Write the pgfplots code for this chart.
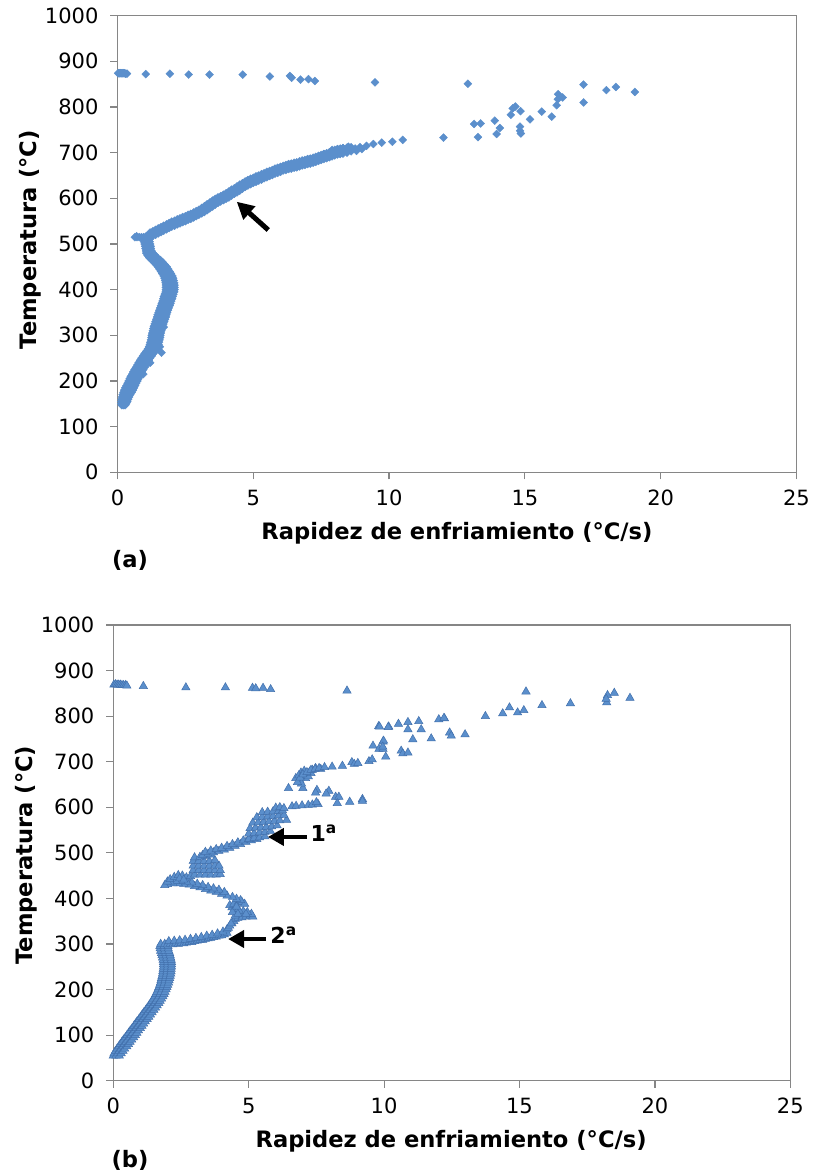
\documentclass[border=0pt]{standalone}
\usepackage{fontspec}
\setmainfont{DejaVu Sans}
\usepackage{pgfplots}
\usepackage{pgfplotstable}
\pgfplotsset{compat=1.18}
\usetikzlibrary{arrows.meta}
\definecolor{mk}{RGB}{91,143,204}
\definecolor{mkd}{RGB}{66,112,172}
\definecolor{axc}{RGB}{134,134,134}

% (a) lower band: temperature, left / centre / right cooling rate
\pgfplotstableread[row sep=\\]{
y xl xc xr\\
510 0.98 1.08 1.18\\
505 0.98 1.08 1.18\\
500 1.00 1.10 1.20\\
495 1.02 1.12 1.22\\
490 1.03 1.13 1.23\\
485 1.05 1.15 1.25\\
480 1.06 1.18 1.30\\
475 1.11 1.25 1.39\\
470 1.17 1.32 1.47\\
465 1.26 1.42 1.58\\
460 1.34 1.50 1.66\\
455 1.42 1.58 1.74\\
450 1.49 1.65 1.81\\
445 1.55 1.71 1.87\\
440 1.60 1.76 1.92\\
435 1.65 1.81 1.97\\
430 1.70 1.86 2.02\\
425 1.73 1.89 2.05\\
420 1.75 1.91 2.07\\
415 1.77 1.93 2.09\\
410 1.78 1.94 2.10\\
405 1.78 1.94 2.10\\
400 1.78 1.94 2.10\\
395 1.77 1.93 2.09\\
390 1.74 1.90 2.06\\
385 1.71 1.87 2.03\\
380 1.69 1.85 2.01\\
375 1.66 1.82 1.98\\
370 1.63 1.79 1.95\\
365 1.60 1.76 1.92\\
360 1.57 1.73 1.89\\
355 1.54 1.70 1.86\\
350 1.51 1.67 1.83\\
345 1.48 1.64 1.80\\
340 1.46 1.62 1.78\\
335 1.43 1.59 1.75\\
330 1.40 1.56 1.72\\
325 1.37 1.53 1.69\\
320 1.34 1.50 1.66\\
315 1.32 1.48 1.64\\
310 1.30 1.46 1.62\\
305 1.28 1.44 1.60\\
300 1.26 1.42 1.58\\
295 1.25 1.41 1.57\\
290 1.23 1.39 1.55\\
285 1.21 1.37 1.53\\
280 1.19 1.35 1.51\\
275 1.16 1.32 1.48\\
270 1.12 1.28 1.44\\
265 1.06 1.22 1.38\\
260 1.00 1.16 1.32\\
255 0.94 1.10 1.26\\
250 0.88 1.04 1.20\\
245 0.83 0.99 1.15\\
240 0.78 0.94 1.10\\
235 0.73 0.89 1.05\\
230 0.68 0.84 1.00\\
225 0.63 0.79 0.95\\
220 0.58 0.74 0.90\\
215 0.54 0.70 0.86\\
210 0.49 0.65 0.81\\
205 0.45 0.61 0.77\\
200 0.41 0.57 0.73\\
195 0.37 0.53 0.69\\
190 0.33 0.49 0.65\\
185 0.29 0.45 0.61\\
180 0.25 0.41 0.57\\
175 0.22 0.37 0.52\\
170 0.19 0.33 0.47\\
165 0.17 0.30 0.43\\
160 0.15 0.27 0.39\\
155 0.14 0.25 0.36\\
150 0.14 0.23 0.32\\
147 0.16 0.22 0.28\\
}\alow

% (a) upper band: cooling rate, lower / middle / upper temperature
\pgfplotstableread[row sep=\\]{
x yl yc yu\\
1.2 517 520 525\\
1.3 518 522 528\\
1.4 520 525 531\\
1.5 523 528 534\\
1.6 526 531 537\\
1.7 529 534 540\\
1.8 532 537 543\\
1.9 535 540 546\\
2.0 538 543 549\\
2.1 540 545 551\\
2.2 543 548 554\\
2.3 545 550 556\\
2.4 548 553 559\\
2.5 550 555 561\\
2.6 553 558 564\\
2.7 555 560 566\\
2.8 558 563 569\\
2.9 561 566 572\\
3.0 564 569 575\\
3.1 567 572 579\\
3.2 570 575 583\\
3.3 574 579 587\\
3.4 578 583 591\\
3.5 582 587 595\\
3.6 586 591 599\\
3.7 590 595 602\\
3.8 593 598 605\\
3.9 596 601 608\\
4.0 599 604 611\\
4.1 602 607 615\\
4.2 606 611 619\\
4.3 610 615 622\\
4.4 613 618 626\\
4.5 617 622 630\\
4.6 621 626 633\\
4.7 625 630 637\\
4.8 628 633 640\\
4.9 631 636 643\\
5.0 634 639 645\\
5.1 636 641 648\\
5.2 639 644 650\\
5.3 641 646 653\\
5.4 644 649 655\\
5.5 646 651 658\\
5.6 649 654 660\\
5.7 651 656 662\\
5.8 654 659 665\\
5.9 656 661 667\\
6.0 658 663 669\\
6.1 661 666 671\\
6.2 662 667 673\\
6.3 664 669 675\\
6.4 665 670 676\\
6.5 667 672 678\\
6.6 668 673 679\\
6.7 670 675 681\\
6.8 672 677 683\\
6.9 673 678 684\\
7.0 675 680 686\\
7.1 676 681 687\\
7.2 678 683 689\\
7.3 680 685 691\\
7.4 682 687 693\\
7.5 684 689 695\\
7.6 686 691 697\\
7.7 688 693 699\\
7.8 690 695 701\\
7.9 692 697 704\\
8.0 694 699 706\\
8.1 696 700 708\\
8.2 697 701 709\\
8.3 698 702 710\\
8.45 700 704 711\\
8.6 703 707 712\\
}\aup

% (b) lower band
\pgfplotstableread[row sep=\\]{
y xl xc xr\\
55 0.00 0.10 0.22\\
60 0.03 0.16 0.29\\
65 0.08 0.22 0.36\\
70 0.14 0.28 0.42\\
75 0.20 0.35 0.50\\
80 0.26 0.41 0.56\\
85 0.32 0.47 0.62\\
90 0.38 0.53 0.68\\
95 0.45 0.60 0.75\\
100 0.51 0.66 0.81\\
105 0.57 0.72 0.87\\
110 0.63 0.78 0.93\\
115 0.70 0.85 1.00\\
120 0.76 0.91 1.06\\
125 0.82 0.97 1.12\\
130 0.88 1.03 1.18\\
135 0.95 1.10 1.25\\
140 1.01 1.16 1.31\\
145 1.07 1.22 1.37\\
150 1.13 1.28 1.43\\
155 1.20 1.35 1.50\\
160 1.26 1.41 1.56\\
165 1.32 1.47 1.62\\
170 1.38 1.53 1.68\\
175 1.43 1.58 1.73\\
180 1.48 1.63 1.78\\
185 1.53 1.68 1.83\\
190 1.57 1.72 1.87\\
195 1.61 1.76 1.91\\
200 1.65 1.80 1.95\\
205 1.68 1.83 1.98\\
210 1.71 1.86 2.01\\
215 1.74 1.89 2.04\\
220 1.76 1.91 2.06\\
225 1.78 1.93 2.08\\
230 1.80 1.95 2.10\\
235 1.82 1.97 2.12\\
240 1.83 1.98 2.13\\
245 1.84 1.99 2.14\\
250 1.85 2.00 2.15\\
255 1.85 2.00 2.15\\
260 1.85 2.00 2.15\\
265 1.84 1.99 2.14\\
270 1.82 1.97 2.12\\
275 1.80 1.95 2.10\\
280 1.78 1.93 2.08\\
285 1.75 1.90 2.05\\
290 1.73 1.88 2.03\\
295 1.72 1.87 2.02\\
300 1.75 1.90 2.05\\
}\blow

\pgfplotsset{
  common/.style={
    scale only axis,
    xmin=0, xmax=25, ymin=0, ymax=1000,
    xtick={0,5,10,15,20,25}, ytick={0,100,...,1000},
    axis line style={axc, line width=0.6pt},
    tick style={axc, line width=0.6pt},
    tick align=outside, major tick length=3.5pt,
    xtick pos=bottom, ytick pos=left,
    tick label style={font=\fontsize{10.5}{12}\selectfont, black},
    xticklabel style={yshift=-1.8pt},
    yticklabel style={xshift=-2.5pt},
    /pgf/number format/assume math mode=true,
    /pgf/number format/set thousands separator={},
    label style={font=\bfseries\fontsize{11.3}{13}\selectfont},
    clip mode=individual,
  },
  amark/.style={only marks, mark=square*, mark size=1.4pt,
    mark options={rotate=45, fill=mk, draw=mk, line width=0.2pt}},
  bmark/.style={only marks, mark=triangle*, mark size=2.4pt,
    mark options={fill=mk, draw=mkd, line width=0.25pt}},
}

\begin{document}
\begin{tikzpicture}
\path[use as bounding box] (0pt,0pt) rectangle (406.5pt,587pt);

% ---------------- (a) ----------------
\begin{axis}[common,
  at={(58.75pt,350.85pt)}, anchor=south west,
  width=339.5pt, height=228.3pt,
  xlabel={Rapidez de enfriamiento (°C/s)},
  ylabel={Temperatura (°C)},
  xlabel style={at={(axis description cs:0.5,-0.1336)}, anchor=center},
  ylabel style={at={(axis description cs:-0.1289,0.509)}, anchor=center},
]
\addplot[amark] table[x=xl,y=y]{\alow};
\addplot[amark] table[x=xc,y=y]{\alow};
\addplot[amark] table[x=xr,y=y]{\alow};
\addplot[amark] table[x=x,y=yl]{\aup};
\addplot[amark] table[x=x,y=yc]{\aup};
\addplot[amark] table[x=x,y=yu]{\aup};
\addplot[amark] coordinates {
(0.02,874)(0.05,874)(0.08,874)(0.11,874)(0.14,874)(0.17,874)(0.2,874)(0.23,874)(0.26,874)(0.3,873)(0.35,873)
(1.04,872)(1.93,873)(2.62,871)(3.39,871)(4.61,871)(5.61,867)(6.35,868)(6.41,864)(6.74,860)(7.03,861)(7.27,857)(9.48,854)
(10.5,728)(12.0,733)(12.9,851)(13.13,763)(13.37,764)(13.27,734)(13.89,770)(14.08,754)(13.96,741)
(14.48,783)(14.55,797)(14.65,801)(14.84,791)(14.82,757)(14.82,748)(14.85,742)(15.19,773)(15.62,790)
(15.99,779)(16.17,804)(16.21,817)(16.22,828)(16.39,821)(17.16,849)(17.16,810)(18.0,837)(18.35,844)(19.05,833)
(0.64,515)(0.72,515)(0.8,515)(0.88,515)(0.96,515)(1.04,516)(1.12,517)(0.7,517)(0.9,513)(1.1,513)
(8.75,709)(8.93,712)(9.17,715)(9.42,719)(9.73,722)(10.12,724)(8.8,704)(9.0,708)
(7.9,706)(8.1,708)(8.3,710)(8.5,713)(8.2,698)(7.6,697)
(1.56,275)(1.62,262)(1.2,240)(0.95,215)(1.7,318)(2.05,395)
};
\draw[black, line width=2.5pt, -{Triangle[length=8.5pt,width=8.5pt]}]
  (axis cs:5.55,530.7) -- (axis cs:4.39,592.6);
\node[font=\bfseries\fontsize{11.3}{13}\selectfont] at (axis description cs:0.0184,-0.194) {(a)};
\end{axis}

% ---------------- (b) ----------------
\begin{axis}[common,
  at={(56.65pt,46.65pt)}, anchor=south west,
  width=338.5pt, height=227.8pt,
  xlabel={Rapidez de enfriamiento (°C/s)},
  ylabel={Temperatura (°C)},
  xlabel style={at={(axis description cs:0.499,-0.132)}, anchor=center},
  ylabel style={at={(axis description cs:-0.129,0.495)}, anchor=center},
]
\addplot[bmark] table[x=xl,y=y]{\blow};
\addplot[bmark] table[x=xc,y=y]{\blow};
\addplot[bmark] table[x=xr,y=y]{\blow};
\addplot[bmark] coordinates {
(2.0,299)(2.1,300)(2.2,299)(2.3,301)(2.4,300)(2.5,302)(2.6,301)(2.7,303)(2.8,304)(2.9,304)(3.0,306)(3.1,307)
(3.2,309)(3.3,309)(3.4,311)(3.5,312)(3.6,313)(3.7,315)(3.8,316)(3.9,318)(4.0,319)(4.1,321)(4.2,324)
(2.05,306)(2.25,307)(2.45,308)(2.65,309)(2.85,311)(3.05,313)(3.25,315)(3.45,318)(3.65,320)(3.85,323)(4.05,327)(4.2,332)
(4.25,335)(4.3,340)(4.38,345)(4.45,350)(4.5,355)(4.6,357)(4.75,358)(4.9,360)(5.05,362)(5.15,360)(5.1,366)
(4.95,370)(4.8,372)(4.65,373)(4.5,376)(4.38,380)(4.3,385)(4.45,388)(4.6,390)(4.75,392)(4.85,388)(4.7,396)
(4.55,399)(4.4,403)(4.2,406)(4.35,345)(4.5,362)(4.4,370)(4.6,366)(4.9,366)(4.55,382)
(4.0,410)(3.8,414)(3.6,417)(3.4,420)(3.2,424)(3.0,427)(2.8,430)(2.6,432)(2.4,433)(2.2,433)(2.0,431)(1.9,429)
(4.1,414)(3.9,419)(3.7,422)(3.5,425)(3.3,429)(3.1,432)(2.9,435)(2.7,437)(2.5,438)(2.3,438)(2.1,437)
(2.0,437)(2.1,442)(2.25,447)(2.4,451)(2.55,450)(2.7,446)(2.85,449)(2.45,444)(2.6,441)
(3.0,452)(3.2,452)(3.4,452)(3.6,452)(3.8,452)(3.95,453)
(2.95,462)(3.15,462)(3.35,462)(3.55,462)(3.75,462)(3.95,462)
(2.95,472)(3.15,472)(3.35,472)(3.55,472)(3.75,472)(3.9,472)
(2.95,482)(3.15,482)(3.35,482)(3.55,482)(3.75,484)
(3.0,490)(3.2,491)(3.4,493)(3.6,496)
(3.3,495)(3.5,498)(3.7,501)(3.9,504)(4.1,507)(4.3,511)(4.5,515)(4.7,519)(4.9,524)(5.1,527)(5.3,530)
(3.4,502)(3.6,505)(3.8,508)(4.0,511)(4.2,515)(4.4,519)(4.6,523)(4.8,527)(5.0,531)
(5.0,530)(5.2,532)(5.4,534)(5.6,536)
(5.0,542)(5.2,543)(5.4,545)(5.6,546)(5.8,548)
(5.05,554)(5.25,555)(5.45,556)(5.65,557)(5.85,558)(6.05,560)
(5.15,566)(5.35,567)(5.55,568)(5.75,569)(5.95,570)(6.15,571)(6.4,572)
(5.3,578)(5.5,579)(5.7,580)(5.9,581)(6.1,582)(6.3,583)
(5.5,589)(5.7,590)(5.9,591)(6.1,592)(6.25,593)
(6.0,599)(6.15,600)(6.3,598)
(6.6,602)(6.75,603)(6.97,604)(7.2,605)(7.35,606)(7.56,607)(7.5,611)
(6.47,642)(6.74,664)(6.89,659)(6.93,676)(7.0,642)(7.14,673)(7.25,678)(7.47,686)(7.66,684)(8.08,689)
(8.46,691)(8.81,699)(8.9,695)(9.03,697)(9.44,701)(9.56,705)(7.52,638)(7.47,632)(7.96,636)(7.86,630)
(8.21,623)(8.33,623)(8.27,609)(8.73,612)(9.2,618)(9.2,614)(7.0,668)(7.1,664)(7.2,668)(7.3,675)(6.85,670)
(7.05,680)(7.35,682)(6.95,652)(6.8,655)(6.9,665)(7.0,672)(7.15,677)(7.3,682)(7.45,684)(7.6,686)(7.8,688)
(9.59,735)(9.96,744)(9.81,728)(9.96,728)(10.06,711)(10.63,724)(10.69,718)(10.88,720)(9.8,778)(10.17,777)
(10.53,783)(10.88,787)(11.28,789)(12.02,793)(12.23,795)(13.74,800)(10.88,771)(11.37,771)(11.06,749)
(11.74,751)(12.42,764)(12.48,757)(12.99,760)(9.98,746)(9.95,733)(12.21,796)(10.15,776)(9.83,777)
(14.38,806)(14.63,819)(14.93,808)(15.16,813)(15.24,854)(15.83,824)(16.88,828)(18.22,830)(18.25,846)
(18.5,851)(19.08,840)(18.2,838)
(0.02,869)(0.08,870)(0.14,869)(0.2,869)(0.26,869)(0.32,868)(0.38,868)(0.45,868)(0.5,867)
(1.11,866)(2.68,863)(4.14,863)(5.14,862)(5.26,861)(5.53,862)(5.81,859)(8.63,856)
};
\draw[black, line width=2.2pt, -{Triangle[length=8pt,width=8.5pt]}]
  (axis cs:7.16,535) -- (axis cs:5.71,535);
\node[anchor=west, font=\bfseries\fontsize{11}{13}\selectfont, inner sep=0pt] at (axis cs:7.27,544) {1\textsuperscript{a}};
\draw[black, line width=2.2pt, -{Triangle[length=8pt,width=8.5pt]}]
  (axis cs:5.64,311) -- (axis cs:4.24,311);
\node[anchor=west, font=\bfseries\fontsize{11}{13}\selectfont, inner sep=0pt] at (axis cs:5.79,320) {2\textsuperscript{a}};
\node[font=\bfseries\fontsize{11.3}{13}\selectfont] at (axis description cs:0.0247,-0.176) {(b)};
\end{axis}
\end{tikzpicture}
\end{document}
